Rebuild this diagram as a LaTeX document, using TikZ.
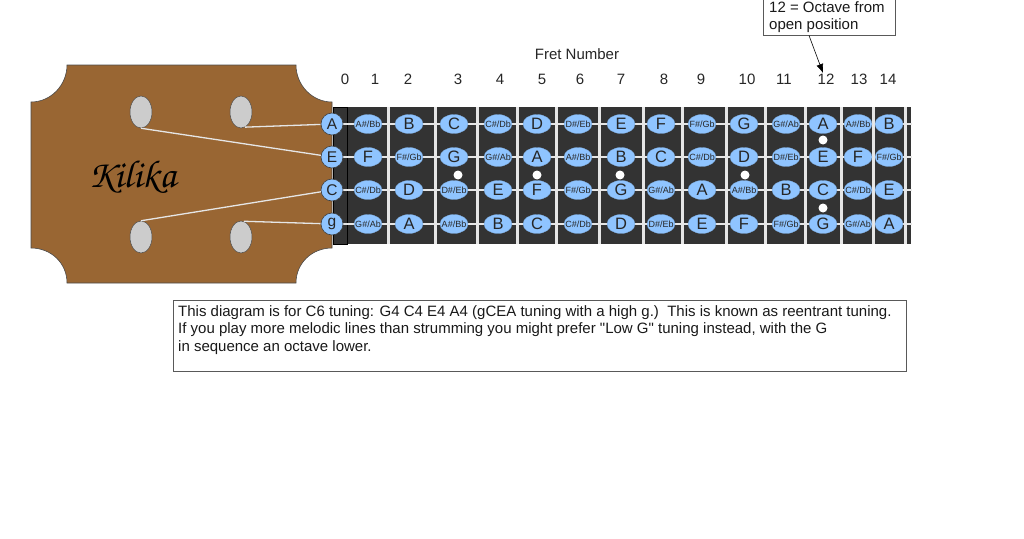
\documentclass[tikz,border=0pt]{standalone}
\usepackage[T1]{fontenc}
\usepackage{fontspec}
\setmainfont{Liberation Sans}[Ligatures=TeXOff]
\usetikzlibrary{shapes.geometric,arrows.meta}
\definecolor{wood}{HTML}{996633}
\definecolor{board}{HTML}{333333}
\definecolor{notefill}{HTML}{8FC4FF}
\definecolor{stringc}{HTML}{E6E6E6}
\definecolor{peg}{HTML}{CCCCCC}
\pgfdeclarelayer{base}
\pgfsetlayers{base,main}
\newcommand{\sh}[2]{\makebox[0pt][c]{\fontsize{9}{11}\selectfont #1\#/#2}}
\newcommand{\logofont}{\fontencoding{T1}\fontfamily{pzc}\fontseries{mb}\fontshape{it}\selectfont}
\tikzset{
  opennote/.style={circle,draw=black!75,line width=0.6pt,fill=notefill,minimum size=22pt,inner sep=0pt,font=\fontsize{15.5}{17}\selectfont,text=black!85},
  fretnote/.style={ellipse,fill=notefill,draw=notefill!85!black,line width=0.3pt,minimum width=28pt,minimum height=19pt,inner sep=0pt,font=\fontsize{16.5}{18}\selectfont,text=black!85},
  tuner/.style={ellipse,draw=black!70,line width=0.5pt,fill=peg,minimum width=22pt,minimum height=32pt,inner sep=0pt},
  fretnum/.style={font=\fontsize{15}{17}\selectfont,text=black!85,inner sep=0pt},
  stringline/.style={draw=stringc,line width=1.3pt},
  fretline/.style={draw=stringc,line width=3pt},
  dotmark/.style={circle,fill=white,minimum size=9pt,inner sep=0pt},
  boxline/.style={anchor=base west,inner sep=0pt,font=\fontsize{15}{17}\selectfont,text=black!90},
}
\begin{document}
\begin{tikzpicture}[x=1pt,y=-1pt]
\useasboundingbox (0,0) rectangle (1024,538);
\begin{pgfonlayer}{base}
  % fretboard
  \fill[board] (333,107) rectangle (911,244);
  \foreach \fx in {388,435,477,517,556,599,643,682,726,765,805,841,873,905}
    \draw[fretline] (\fx,107) -- (\fx,244);
  \draw[black,line width=0.8pt] (333,107) rectangle (347,244);
  % headstock
  \draw[draw=black!70,line width=0.6pt,fill=wood]
    (67,65) -- (296,65) .. controls (296,85) and (312,102) .. (332,102)
    -- (332,248) .. controls (312,248) and (296,263) .. (296,283)
    -- (67,283) .. controls (67,263) and (51,248) .. (31,248)
    -- (31,102) .. controls (51,102) and (67,85) .. (67,65) -- cycle;
  \node[tuner] (t1) at (141,112) {};
  \node[tuner] (t2) at (241,112) {};
  \node[tuner] (t3) at (141,237) {};
  \node[tuner] (t4) at (241,237) {};
\end{pgfonlayer}
\node[font=\fontsize{39}{42}\selectfont\logofont,text=black] (logo) at (132,177) {Kilika};
% notes
\newcommand{\notestring}[3]{%
  \foreach \n [count=\c from 0] in {#3} {%
    \pgfmathsetmacro{\xx}{{332,368,409,454,498,537,578,621,661,702,744,786,823,858,889}[\c]}%
    \ifnum\c=0 \def\shp{opennote}\else\def\shp{fretnote}\fi
    \node[\shp] (#1-\c) at (\xx,#2) {\n};
  }%
}
\notestring{a}{124}{A,\sh{A}{Bb},B,C,\sh{C}{Db},D,\sh{D}{Eb},E,F,\sh{F}{Gb},G,\sh{G}{Ab},A,\sh{A}{Bb},B}
\notestring{e}{157}{E,F,\sh{F}{Gb},G,\sh{G}{Ab},A,\sh{A}{Bb},B,C,\sh{C}{Db},D,\sh{D}{Eb},E,F,\sh{F}{Gb}}
\notestring{c}{190}{C,\sh{C}{Db},D,\sh{D}{Eb},E,F,\sh{F}{Gb},G,\sh{G}{Ab},A,\sh{A}{Bb},B,C,\sh{C}{Db},E}
\notestring{g}{224}{g,\sh{G}{Ab},A,\sh{A}{Bb},B,C,\sh{C}{Db},D,\sh{D}{Eb},E,F,\sh{F}{Gb},G,\sh{G}{Ab},A}
% string ends
\coordinate (endA) at (912,124);
\coordinate (endE) at (912,157);
\coordinate (endC) at (912,190);
\coordinate (endG) at (912,224);
\begin{pgfonlayer}{base}
  \draw[stringline] (a-0) -- (endA);
  \draw[stringline] (e-0) -- (endE);
  \draw[stringline] (c-0) -- (endC);
  \draw[stringline] (g-0) -- (endG);
  \draw[stringline] (t2.-75) -- (a-0);
  \draw[stringline] (t1.south) -- (e-0);
  \draw[stringline] (t3.north) -- (c-0);
  \draw[stringline] (t4.80) -- (g-0);
\end{pgfonlayer}
% position dots
\node[dotmark] (d3) at (458,175) {};
\node[dotmark] (d5) at (537,175) {};
\node[dotmark] (d7) at (620,175) {};
\node[dotmark] (d10) at (745,175) {};
\node[dotmark] (d12a) at (823,140) {};
\node[dotmark] (d12b) at (823,208) {};
% fret numbers
\node[fretnum] (title) at (577,54) {Fret Number};
\foreach \lab/\lx in {0/345,1/375,2/408,3/458,4/500,5/542,6/580,7/621,8/664,9/701,10/747,11/784,12/826,13/859,14/888}
  \node[fretnum] (n\lab) at (\lx,79.5) {\lab};
% callout
\draw[draw=black!65,line width=0.6pt] (763,-3) rectangle (895,35.5);
\node[boxline] (co1) at (769,12.5) {12 = Octave from};
\node[boxline] (co2) at (769,29.5) {open position};
\coordinate (coOut) at (809,35.5);
\coordinate (coIn) at (823,73);
\draw[black,line width=0.6pt,-{Latex[length=9pt,width=7pt]}] (coOut) -- (coIn);
% text box
\draw[draw=black!65,line width=0.6pt] (173,300) rectangle (906,371);
\node[boxline] (txt1) at (178,316) {This diagram is for C6 tuning: G4 C4 E4 A4 (gCEA tuning with a high g.)\ \ This is known as reentrant tuning.};
\node[boxline] (txt2) at (178,333.5) {If you play more melodic lines than strumming you might prefer "Low G" tuning instead, with the G};
\node[boxline] (txt3) at (178,351) {in sequence an octave lower.};
\end{tikzpicture}
\end{document}
